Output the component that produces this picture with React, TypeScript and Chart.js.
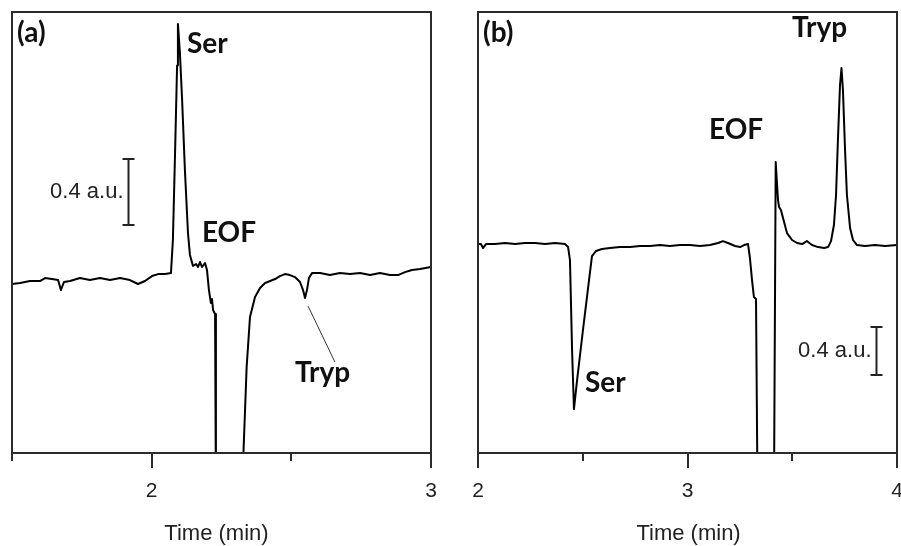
import React, { useEffect, useRef } from 'react';
import { Chart, registerables } from 'chart.js';

Chart.register(...registerables);

// ---- Panel (a) ----
const timeA = [
  1.5, 1.529, 1.564, 1.6, 1.618, 1.643, 1.665, 1.675, 1.686, 1.708, 1.743, 1.779, 1.815, 1.851, 1.887, 1.922,
  1.951, 1.976, 2.001, 2.023, 2.048, 2.069, 2.076, 2.084, 2.091, 2.094, 2.101, 2.109, 2.119, 2.13, 2.137,
  2.148, 2.159, 2.166, 2.173, 2.18, 2.191, 2.198, 2.205, 2.212, 2.216, 2.22, 2.227, 2.23, 2.323, 2.34,
  2.352, 2.37, 2.388, 2.406, 2.424, 2.442, 2.459, 2.477, 2.495, 2.513, 2.531, 2.542, 2.549, 2.556, 2.563,
  2.574, 2.603, 2.638, 2.674, 2.71, 2.746, 2.782, 2.817, 2.853, 2.882, 2.907, 2.932, 2.961, 3.0,
];
const absA = [
  -0.024, -0.018, -0.006, -0.006, 0.012, 0.006, 0.0, -0.061, -0.012, -0.006, 0.012, 0.0, 0.012, 0.0, 0.012, 0.0,
  -0.024, -0.006, 0.024, 0.036, 0.036, 0.042, 0.242, 0.788, 1.3, 1.552, 1.38, 1.091, 0.667, 0.285, 0.152,
  0.085, 0.097, 0.079, 0.109, 0.079, 0.103, 0.061, -0.061, -0.139, -0.115, -0.182, -0.206, -1.3, -1.3, -0.527,
  -0.224, -0.103, -0.048, -0.018, -0.006, 0.006, 0.024, 0.036, 0.03, 0.018, -0.012, -0.061, -0.109, -0.061, 0.012,
  0.042, 0.042, 0.03, 0.042, 0.036, 0.042, 0.03, 0.042, 0.03, 0.03, 0.048, 0.061, 0.067, 0.079,
];

// ---- Panel (b) ----
const timeB = [
  2.0, 2.014, 2.024, 2.038, 2.081, 2.129, 2.177, 2.224, 2.272, 2.32, 2.368, 2.415, 2.43, 2.439, 2.449, 2.458,
  2.473, 2.501, 2.53, 2.544, 2.563, 2.592, 2.63, 2.678, 2.726, 2.773, 2.821, 2.869, 2.916, 2.964, 3.012, 3.06,
  3.107, 3.146, 3.169, 3.193, 3.227, 3.251, 3.27, 3.289, 3.298, 3.308, 3.317, 3.327, 3.334, 3.413, 3.421,
  3.432, 3.437, 3.446, 3.461, 3.475, 3.499, 3.523, 3.547, 3.57, 3.594, 3.623, 3.652, 3.671, 3.685, 3.699,
  3.709, 3.718, 3.728, 3.735, 3.742, 3.752, 3.761, 3.776, 3.79, 3.809, 3.847, 3.895, 3.943, 4.0,
];
const absB = [
  0.008, 0.008, -0.025, 0.008, 0.008, 0.017, 0.008, 0.017, 0.017, 0.008, 0.017, 0.008, -0.017, -0.125, -0.875, -1.367,
  -1.125, -0.708, -0.292, -0.092, -0.05, -0.033, -0.025, -0.017, -0.017, -0.008, -0.008, 0.0, -0.008, 0.0, 0.0, -0.008,
  0.0, 0.017, 0.033, 0.017, -0.008, -0.017, 0.0, 0.008, -0.108, -0.292, -0.433, -0.45, -2.0, -2.0, 0.692,
  0.375, 0.317, 0.292, 0.192, 0.1, 0.042, 0.017, 0.008, 0.033, 0.0, -0.017, -0.025, -0.017, 0.033, 0.167,
  0.417, 0.875, 1.333, 1.475, 1.292, 0.792, 0.417, 0.142, 0.042, 0.0, -0.008, 0.0, -0.008, 0.0,
];

const xTickStep = 0.5;
const axisTitle = 'Time (min)';
const scaleBarLabel = '0.4 a.u.';

const SANS = '"Liberation Sans", Arial, sans-serif';
const BOLD = 'Lato, "Open Sans", sans-serif';

type Label = { text: string; t: number; a: number };
type PanelCfg = {
  labels: Label[];
  bar: { t: number; a1: number; a2: number };
  leader?: { t1: number; a1: number; t2: number; a2: number };
  titleT: number;
};

const decorPlugin = {
  id: 'panelDecor',
  afterDraw(chart: any, _args: any, opts: PanelCfg) {
    const { ctx, chartArea } = chart;
    const xs = chart.scales.x;
    const ys = chart.scales.y;
    ctx.save();
    // frame
    ctx.strokeStyle = '#2b2b2b';
    ctx.lineWidth = 2;
    ctx.strokeRect(chartArea.left, chartArea.top, chartArea.right - chartArea.left, chartArea.bottom - chartArea.top);
    // ticks
    xs.ticks.forEach((tk: any) => {
      const px = Math.round(xs.getPixelForValue(tk.value));
      const major = Math.abs(tk.value - Math.round(tk.value)) < 1e-6;
      ctx.beginPath();
      ctx.moveTo(px, chartArea.bottom);
      ctx.lineTo(px, chartArea.bottom + (major ? 15 : 8));
      ctx.stroke();
    });
    // leader line
    if (opts.leader) {
      const l = opts.leader;
      ctx.strokeStyle = '#333';
      ctx.lineWidth = 1;
      ctx.beginPath();
      ctx.moveTo(xs.getPixelForValue(l.t1), ys.getPixelForValue(l.a1));
      ctx.lineTo(xs.getPixelForValue(l.t2), ys.getPixelForValue(l.a2));
      ctx.stroke();
    }
    // scale bar
    const bx = Math.round(xs.getPixelForValue(opts.bar.t)) + 0.5;
    const by1 = ys.getPixelForValue(opts.bar.a1);
    const by2 = ys.getPixelForValue(opts.bar.a2);
    ctx.strokeStyle = '#222';
    ctx.lineWidth = 2;
    ctx.beginPath();
    ctx.moveTo(bx, by1);
    ctx.lineTo(bx, by2);
    ctx.moveTo(bx - 6, by1);
    ctx.lineTo(bx + 6, by1);
    ctx.moveTo(bx - 6, by2);
    ctx.lineTo(bx + 6, by2);
    ctx.stroke();
    ctx.fillStyle = '#222';
    ctx.font = `22px ${SANS}`;
    ctx.textAlign = 'right';
    ctx.textBaseline = 'middle';
    ctx.fillText(scaleBarLabel, bx - 5, (by1 + by2) / 2);
    // bold labels
    ctx.fillStyle = '#111';
    ctx.font = `bold 28px ${BOLD}`;
    ctx.textAlign = 'left';
    ctx.textBaseline = 'alphabetic';
    opts.labels.forEach((lb) => {
      ctx.fillText(lb.text, xs.getPixelForValue(lb.t), ys.getPixelForValue(lb.a));
    });
    // axis title
    ctx.fillStyle = '#222';
    ctx.font = `22px ${SANS}`;
    ctx.textAlign = 'center';
    ctx.textBaseline = 'middle';
    ctx.fillText(axisTitle, xs.getPixelForValue(opts.titleT), 534);
    ctx.restore();
  },
};

function makeConfig(
  times: number[],
  values: number[],
  xmin: number,
  xmax: number,
  ymin: number,
  ymax: number,
  padding: { left: number; right: number },
  decor: PanelCfg
): any {
  return {
    type: 'line',
    data: {
      datasets: [
        {
          data: times.map((t, i) => ({ x: t, y: values[i] })),
          borderColor: '#000',
          borderWidth: 2,
          pointRadius: 0,
          tension: 0,
          fill: false,
          clip: 1,
          borderJoinStyle: 'round',
        },
      ],
    },
    options: {
      animation: false,
      responsive: false,
      layout: { padding: { left: padding.left, right: padding.right, top: 12, bottom: 0 } },
      plugins: {
        legend: { display: false },
        tooltip: { enabled: false },
        panelDecor: decor,
      },
      scales: {
        x: {
          type: 'linear',
          min: xmin,
          max: xmax,
          grid: { display: true, drawOnChartArea: false, drawTicks: true, tickLength: 32, tickColor: 'rgba(0,0,0,0)', color: 'rgba(0,0,0,0)' },
          border: { display: false },
          ticks: {
            stepSize: xTickStep,
            autoSkip: false,
            maxRotation: 0,
            padding: -6,
            color: '#222',
            font: { family: SANS, size: 21 },
            callback: (v: number) => (Math.abs(v - Math.round(v)) < 1e-6 ? String(Math.round(v)) : ''),
          },
          afterFit: (s: any) => {
            s.height = 93;
          },
        },
        y: { display: false, min: ymin, max: ymax },
      },
    },
    plugins: [decorPlugin],
  };
}

function Panel(props: { cfg: any; left: number; width: number }) {
  const ref = useRef<HTMLCanvasElement | null>(null);
  useEffect(() => {
    if (!ref.current) return;
    const chart = new Chart(ref.current, props.cfg);
    return () => chart.destroy();
  }, []);
  return (
    <canvas
      ref={ref}
      width={props.width}
      height={546}
      style={{ position: 'absolute', left: props.left, top: 0, width: props.width, height: 546 }}
    />
  );
}

export default function App() {
  const cfgA = makeConfig(timeA, absA, 1.5, 3, -1.048, 1.624, { left: 12, right: 19 }, {
    labels: [
      { text: '(a)', t: 1.518, a: 1.442 },
      { text: 'Ser', t: 2.1265, a: 1.376 },
      { text: 'EOF', t: 2.18, a: 0.23 },
      { text: 'Tryp', t: 2.513, a: -0.618 },
    ],
    bar: { t: 1.915, a1: 0.733, a2: 0.333 },
    leader: { t1: 2.56, a1: -0.158, t2: 2.656, a2: -0.497 },
    titleT: 2.232,
  });
  const cfgB = makeConfig(timeB, absB, 2, 4, -1.733, 1.942, { left: 28, right: 4 }, {
    labels: [
      { text: '(b)', t: 2.024, a: 1.692 },
      { text: 'Tryp', t: 3.499, a: 1.733 },
      { text: 'EOF', t: 3.103, a: 0.883 },
      { text: 'Ser', t: 2.511, a: -1.225 },
    ],
    bar: { t: 3.9, a1: -0.683, a2: -1.083 },
    titleT: 3.005,
  });
  return (
    <div style={{ position: 'fixed', left: 0, top: 0, width: 901, height: 546, background: '#fff', overflow: 'hidden' }}>
      <Panel cfg={cfgA} left={0} width={450} />
      <Panel cfg={cfgB} left={450} width={451} />
    </div>
  );
}
